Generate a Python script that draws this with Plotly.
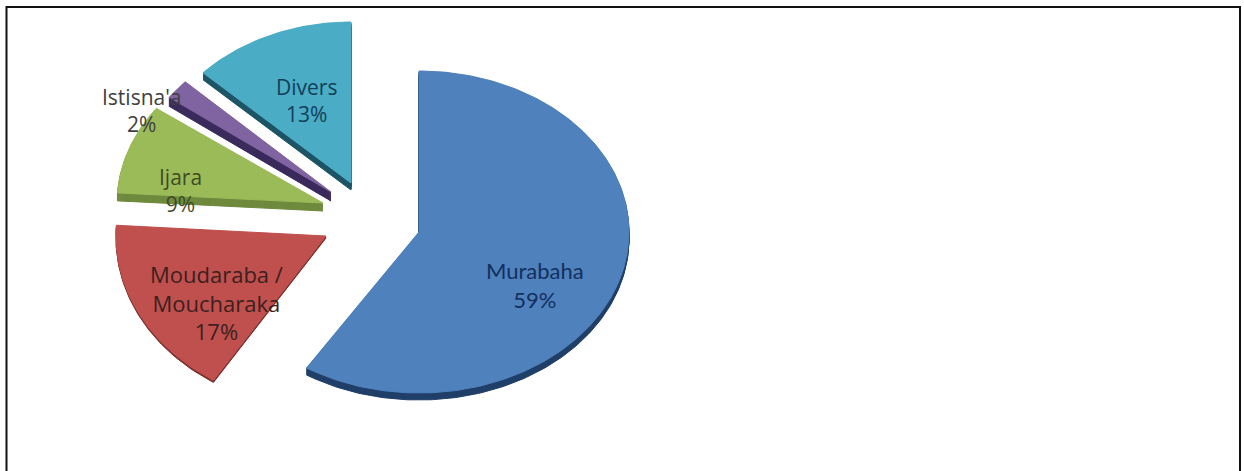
import math
import plotly.graph_objects as go

# Data
categories = ["Murabaha", "Moudaraba /<br>Moucharaka", "Ijara", "Istisna'a", "Divers"]
shares = [59, 17, 9, 2, 13]

# Styles / layout (page pixels used as axis units)
top_colors = ["#4f81bd", "#c0504d", "#9bbb59", "#8064a2", "#4bacc6"]
side_colors = ["#1f3f68", "#7a2f2d", "#6f8a3e", "#3b2a5c", "#1d5566"]
text_colors = ["#12305e", "#3c2020", "#3f4a25", "#404040", "#123f58"]
centers = [(419, 232), (326, 236), (323, 203), (331, 192), (351, 183)]
radii = [(210, 161), (210, 171), (206, 161), (200, 161), (203, 161)]
depths = [7, 2, 8, 9, 7]
label_pos = [(535, 285), (216, 302), (180, 190), (142, 110), (306, 100)]
label_fonts = [("Lato", 22), ("Open Sans", 22), ("Open Sans", 21), ("Open Sans", 21), ("Open Sans", 21)]
W, H = 1244, 471


def slice_xy(cx, cy, rx, ry, a0, a1, dy=0):
    n = max(4, int(abs(a1 - a0) * 60))
    xs, ys = [cx], [cy + dy]
    for i in range(n + 1):
        a = a0 + (a1 - a0) * i / n
        xs.append(cx + rx * math.sin(a))
        ys.append(cy + dy - ry * math.cos(a))
    xs.append(cx)
    ys.append(cy + dy)
    return xs, ys


fig = go.Figure()
total = sum(shares)
acc = 0
bounds = []
for v in shares:
    a0 = 2 * math.pi * acc / total
    acc += v
    bounds.append((a0, 2 * math.pi * acc / total))

for i, (a0, a1) in enumerate(bounds):
    cx, cy = centers[i]
    rx, ry = radii[i]
    # extruded side
    xs, ys = [], []
    for d in range(1, depths[i] + 1):
        x, y = slice_xy(cx, cy, rx, ry, a0, a1, d)
        xs += x + [None]
        ys += y + [None]
    fig.add_trace(go.Scatter(x=xs, y=ys, mode="lines", fill="toself",
                             fillcolor=side_colors[i], line=dict(color=side_colors[i], width=1),
                             hoverinfo="skip", showlegend=False))
    # top face
    x, y = slice_xy(cx, cy, rx, ry, a0, a1)
    fig.add_trace(go.Scatter(x=x, y=y, mode="lines", fill="toself",
                             fillcolor=top_colors[i], line=dict(color=top_colors[i], width=1),
                             name=categories[i].replace("<br>", " "), hoverinfo="name", showlegend=False))

for i, c in enumerate(categories):
    fam, size = label_fonts[i]
    fig.add_annotation(x=label_pos[i][0], y=label_pos[i][1], text=f"{c}<br>{shares[i]}%",
                       showarrow=False, font=dict(family=fam, size=size, color=text_colors[i]),
                       xanchor="center", yanchor="middle", align="center")

fig.update_layout(
    width=W, height=H, margin=dict(l=0, r=0, t=0, b=0),
    paper_bgcolor="white", plot_bgcolor="white", showlegend=False,
    xaxis=dict(range=[0, W], visible=False, fixedrange=True),
    yaxis=dict(range=[H, 0], visible=False, fixedrange=True),
    shapes=[dict(type="rect", xref="paper", yref="paper",
                 x0=6.5 / W, x1=1240 / W, y0=-0.05, y1=1 - 7 / H,
                 line=dict(color="#111111", width=2), fillcolor="rgba(0,0,0,0)", layer="below")],
)
fig.write_html("out.html", config=dict(displayModeBar=False),
               post_script="document.body.style.margin='0';document.documentElement.style.overflow='hidden';")
